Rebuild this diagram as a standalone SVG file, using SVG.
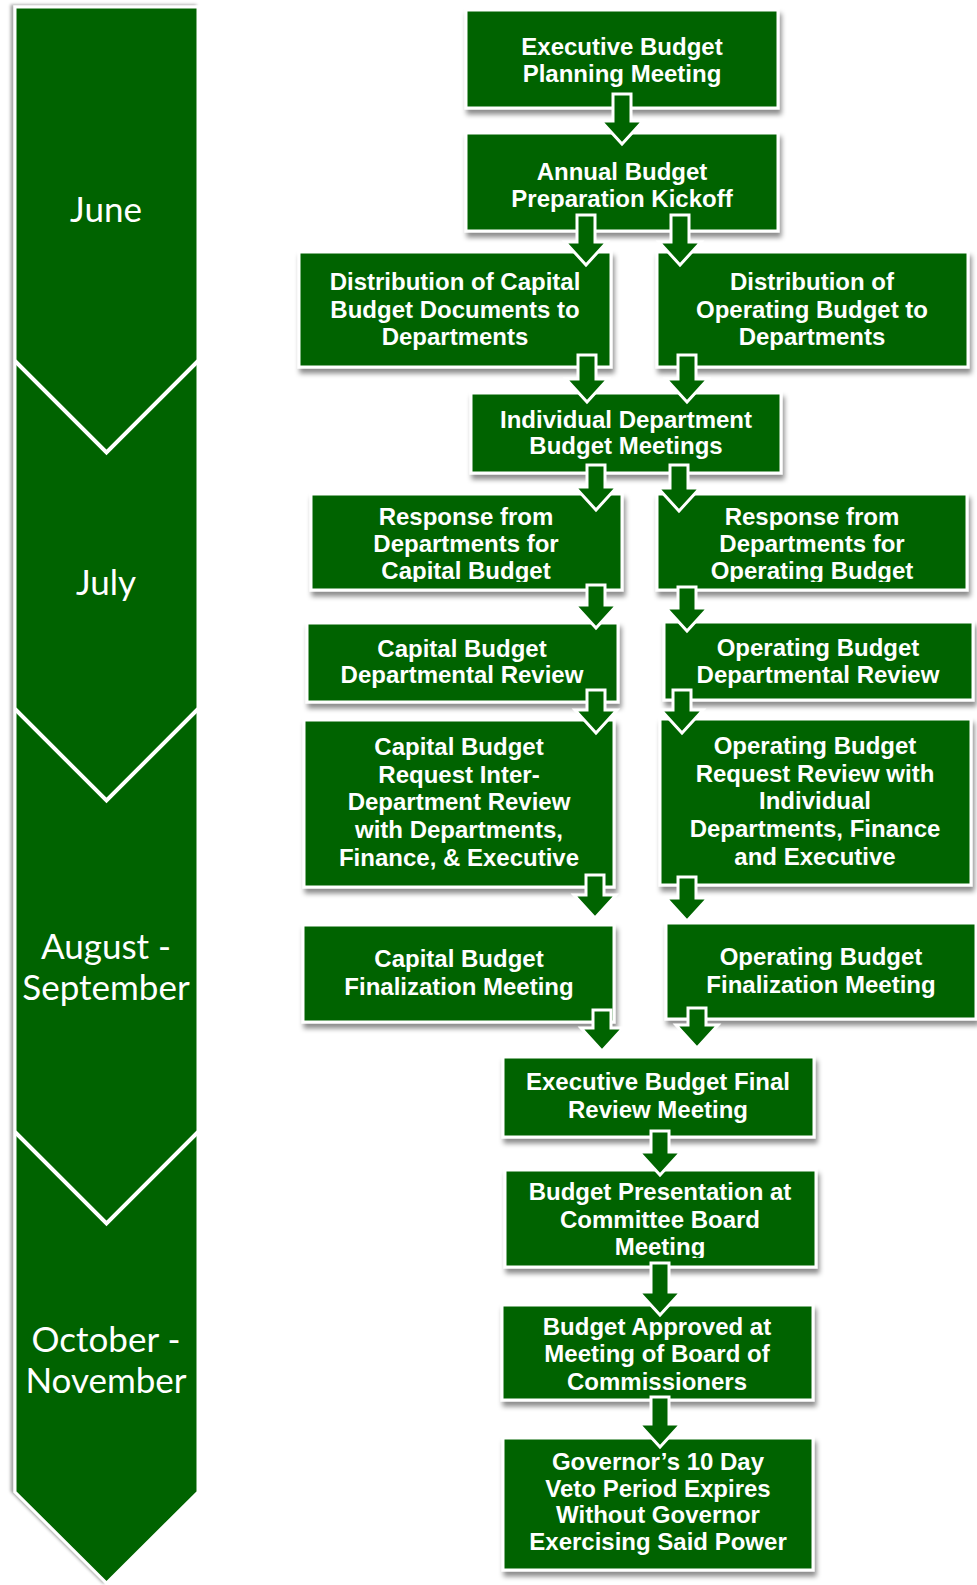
<svg xmlns="http://www.w3.org/2000/svg" width="977" height="1585" viewBox="0 0 977 1585">
<defs>
<filter id="sh" x="-10%" y="-20%" width="125%" height="160%"><feDropShadow dx="2" dy="5" stdDeviation="2.5" flood-color="#000" flood-opacity="0.45"/></filter>
<filter id="colsh" x="-10%" y="-2%" width="120%" height="104%"><feDropShadow dx="-3" dy="-1" stdDeviation="1.5" flood-color="#000" flood-opacity="0.35"/></filter>
<clipPath id="cFG"><rect x="290" y="480" width="687" height="102"/></clipPath>
<clipPath id="cO"><rect x="480" y="1160" width="360" height="98"/></clipPath>
</defs>
<style>
.box{fill:#006400;stroke:#fff;stroke-width:3;filter:url(#sh)}
.t{font-family:"Liberation Sans",Arial,sans-serif;font-weight:bold;font-size:24px;fill:#fff;text-anchor:middle}
.m{font-family:Lato,"Open Sans",sans-serif;font-size:35px;fill:#fff;text-anchor:middle}
.arr{fill:#006400;stroke:#fff;stroke-width:3;stroke-linejoin:miter}
.sep{fill:none;stroke:#fff;stroke-width:4}
</style>
<rect width="977" height="1585" fill="#fff"/>

<g id="timeline">
<polygon points="15,7 198,7 198,1492 106.5,1583 15,1492" fill="#006400" stroke="#fff" stroke-width="3" filter="url(#colsh)"/>
<polyline class="sep" points="15,361 106.5,452.5 198,361"/>
<polyline class="sep" points="15,709 106.5,800.5 198,709"/>
<polyline class="sep" points="15,1132 106.5,1223.5 198,1132"/>
<text class="m" x="106" y="222">June</text>
<text class="m" x="106" y="595">July</text>
<text class="m" x="106" y="959">August -</text>
<text class="m" x="106" y="1000">September</text>
<text class="m" x="106" y="1352">October -</text>
<text class="m" x="106" y="1393">November</text>
</g>

<g id="nodeA"><rect class="box" x="466" y="10" width="312" height="98"/>
<text class="t" x="622" y="55">Executive Budget</text><text class="t" x="622" y="82">Planning Meeting</text></g>
<g id="nodeB"><rect class="box" x="466" y="133" width="312" height="98"/>
<text class="t" x="622" y="180">Annual Budget</text><text class="t" x="622" y="207">Preparation Kickoff</text></g>
<g id="nodeC"><rect class="box" x="299" y="252" width="312" height="115"/>
<text class="t" x="455" y="290">Distribution of Capital</text><text class="t" x="455" y="318">Budget Documents to</text><text class="t" x="455" y="345">Departments</text></g>
<g id="nodeD"><rect class="box" x="657" y="252" width="311" height="115"/>
<text class="t" x="812" y="290">Distribution of</text><text class="t" x="812" y="318">Operating Budget to</text><text class="t" x="812" y="345">Departments</text></g>
<g id="nodeE"><rect class="box" x="471" y="393" width="310" height="80"/>
<text class="t" x="626" y="428">Individual Department</text><text class="t" x="626" y="454">Budget Meetings</text></g>
<g id="nodeF"><rect class="box" x="311" y="494" width="311" height="96"/>
<g clip-path="url(#cFG)"><text class="t" x="466" y="525">Response from</text><text class="t" x="466" y="552">Departments for</text><text class="t" x="466" y="579">Capital Budget</text></g></g>
<g id="nodeG"><rect class="box" x="657" y="494" width="310" height="96"/>
<g clip-path="url(#cFG)"><text class="t" x="812" y="525">Response from</text><text class="t" x="812" y="552">Departments for</text><text class="t" x="812" y="579">Operating Budget</text></g></g>
<g id="nodeH"><rect class="box" x="307" y="623" width="311" height="79"/>
<text class="t" x="462" y="657">Capital Budget</text><text class="t" x="462" y="683">Departmental Review</text></g>
<g id="nodeI"><rect class="box" x="664" y="622" width="309" height="78"/>
<text class="t" x="818" y="656">Operating Budget</text><text class="t" x="818" y="683">Departmental Review</text></g>
<g id="nodeJ"><rect class="box" x="304" y="720" width="310" height="167"/>
<text class="t" x="459" y="755">Capital Budget</text><text class="t" x="459" y="783">Request Inter-</text><text class="t" x="459" y="810">Department Review</text><text class="t" x="459" y="838">with Departments,</text><text class="t" x="459" y="866">Finance, &amp; Executive</text></g>
<g id="nodeK"><rect class="box" x="660" y="719" width="311" height="166"/>
<text class="t" x="815" y="754">Operating Budget</text><text class="t" x="815" y="782">Request Review with</text><text class="t" x="815" y="809">Individual</text><text class="t" x="815" y="837">Departments, Finance</text><text class="t" x="815" y="865">and Executive</text></g>
<g id="nodeL"><rect class="box" x="303" y="925" width="311" height="97"/>
<text class="t" x="459" y="967">Capital Budget</text><text class="t" x="459" y="995">Finalization Meeting</text></g>
<g id="nodeM"><rect class="box" x="666" y="923" width="310" height="96"/>
<text class="t" x="821" y="965">Operating Budget</text><text class="t" x="821" y="993">Finalization Meeting</text></g>
<g id="nodeN"><rect class="box" x="503" y="1057" width="311" height="80"/>
<text class="t" x="658" y="1090">Executive Budget Final</text><text class="t" x="658" y="1118">Review Meeting</text></g>
<g id="nodeO"><rect class="box" x="505" y="1170" width="311" height="97"/>
<g clip-path="url(#cO)"><text class="t" x="660" y="1200">Budget Presentation at</text><text class="t" x="660" y="1228">Committee Board</text><text class="t" x="660" y="1255">Meeting</text></g></g>
<g id="nodeP"><rect class="box" x="502" y="1305" width="311" height="95"/>
<text class="t" x="657" y="1335">Budget Approved at</text><text class="t" x="657" y="1362">Meeting of Board of</text><text class="t" x="657" y="1390">Commissioners</text></g>
<g id="nodeQ"><rect class="box" x="503" y="1438" width="310" height="132"/>
<text class="t" x="658" y="1470">Governor’s 10 Day</text><text class="t" x="658" y="1497">Veto Period Expires</text><text class="t" x="658" y="1523">Without Governor</text><text class="t" x="658" y="1550">Exercising Said Power</text></g>

<g id="connectors">
<polygon class="arr" points="613,94 631,94 631,121 643,121 622,144 601,121 613,121"/>
<polygon class="arr" points="577,215 595,215 595,242 607,242 586,265 565,242 577,242"/>
<polygon class="arr" points="671,215 689,215 689,242 701,242 680,265 659,242 671,242"/>
<polygon class="arr" points="578,355 596,355 596,379 608,379 587,402 566,379 578,379"/>
<polygon class="arr" points="678,355 696,355 696,379 708,379 687,402 666,379 678,379"/>
<polygon class="arr" points="587,465 605,465 605,487 617,487 596,510 575,487 587,487"/>
<polygon class="arr" points="670,465 688,465 688,488 700,488 679,511 658,488 670,488"/>
<polygon class="arr" points="587,585 605,585 605,605 617,605 596,628 575,605 587,605"/>
<polygon class="arr" points="678,587 696,587 696,608 708,608 687,631 666,608 678,608"/>
<polygon class="arr" points="587,690 605,690 605,710 617,710 596,733 575,710 587,710"/>
<polygon class="arr" points="673,690 691,690 691,710 703,710 682,733 661,710 673,710"/>
<polygon class="arr" points="586,875 604,875 604,895 616,895 595,918 574,895 586,895"/>
<polygon class="arr" points="678,877 696,877 696,898 708,898 687,921 666,898 678,898"/>
<polygon class="arr" points="593,1010 611,1010 611,1028 623,1028 602,1051 581,1028 593,1028"/>
<polygon class="arr" points="688,1008 706,1008 706,1025 718,1025 697,1048 676,1025 688,1025"/>
<polygon class="arr" points="651,1131 669,1131 669,1152 681,1152 660,1175 639,1152 651,1152"/>
<polygon class="arr" points="651,1263 669,1263 669,1292 681,1292 660,1315 639,1292 651,1292"/>
<polygon class="arr" points="651,1397 669,1397 669,1424 681,1424 660,1447 639,1424 651,1424"/>
</g>
</svg>
